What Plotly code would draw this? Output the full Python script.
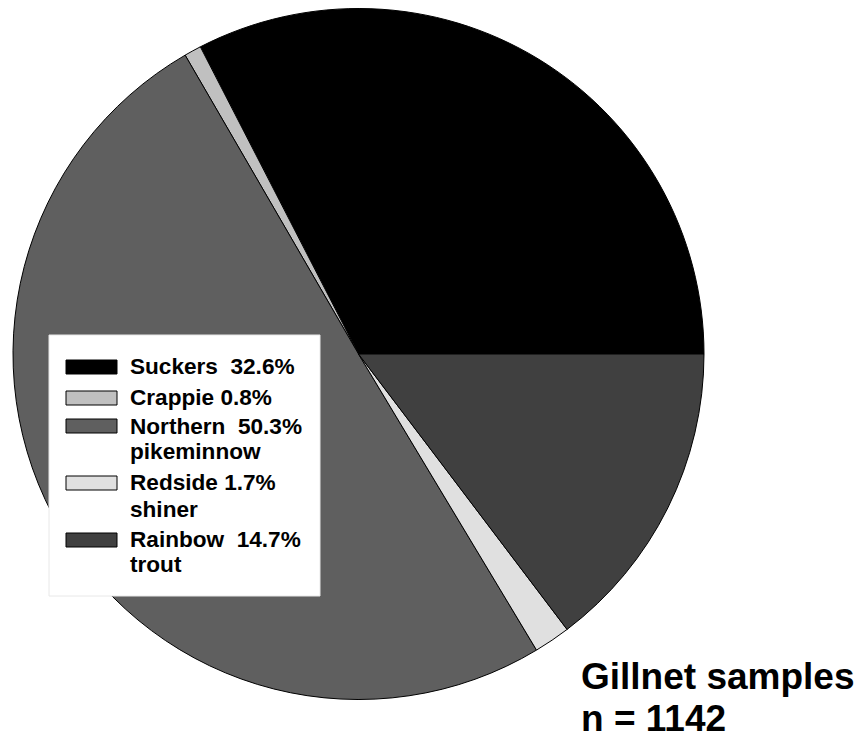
import plotly.graph_objects as go

W, H = 862, 740

# Catch composition (percent of gillnet catch)
species = ["Suckers", "Crappie", "Northern pikeminnow", "Redside shiner", "Rainbow trout"]
percent = [32.6, 0.8, 50.3, 1.7, 14.7]
colors = ["#000000", "#c0c0c0", "#5f5f5f", "#e0e0e0", "#404040"]
# Legend text, one list of lines per species
legend_lines = [
    ["Suckers\u00a0\u00a032.6%"],
    ["Crappie 0.8%"],
    ["Northern\u00a0\u00a050.3%", "pikeminnow"],
    ["Redside 1.7%", "shiner"],
    ["Rainbow\u00a0\u00a014.7%", "trout"],
]
sample_title = "Gillnet samples"
sample_size = "n = 1142"

FONT = "Liberation Sans, Arial, sans-serif"


def px_x(x):
    return x / W


def px_y(y):
    return 1 - y / H


# Plotly anchors a counterclockwise pie at the far edge of the first slice,
# so offset the rotation to make the first slice start at 3 o'clock.
first_angle = 360.0 * percent[0] / sum(percent)

fig = go.Figure(
    go.Pie(
        labels=species,
        values=percent,
        sort=False,
        direction="counterclockwise",
        rotation=90 - first_angle,
        textinfo="none",
        hoverinfo="label+percent",
        marker=dict(colors=colors, line=dict(color="#000000", width=1)),
        domain=dict(x=[px_x(13), px_x(704)], y=[px_y(699.5), px_y(8.5)]),
        showlegend=False,
    )
)

shapes = []
annotations = []

# Legend panel
shapes.append(dict(type="rect", xref="paper", yref="paper",
                   x0=px_x(49), x1=px_x(320), y0=px_y(596), y1=px_y(335),
                   fillcolor="#ffffff", line=dict(color="#e8e8e8", width=1)))

swatch_centers = [367, 398, 426, 483, 540]
line_baselines = [[375], [406], [434, 459], [490, 517], [547, 572]]
for color, center, lines, bases in zip(colors, swatch_centers, legend_lines, line_baselines):
    shapes.append(dict(type="rect", xref="paper", yref="paper",
                       x0=px_x(66), x1=px_x(117), y0=px_y(center + 7), y1=px_y(center - 7),
                       fillcolor=color, line=dict(color="#000000", width=1)))
    for txt, base in zip(lines, bases):
        annotations.append(dict(text="<b>%s</b>" % txt, xref="paper", yref="paper",
                                x=px_x(128), y=px_y(base - 8), xanchor="left", yanchor="middle",
                                showarrow=False, font=dict(family=FONT, size=22.6, color="#000000")))

annotations.append(dict(text="<b>%s</b>" % sample_title, xref="paper", yref="paper",
                        x=px_x(580), y=px_y(698), xanchor="left", yanchor="bottom",
                        showarrow=False, borderpad=0,
                        font=dict(family=FONT, size=37, color="#000000")))
annotations.append(dict(text="<b>%s</b>" % sample_size, xref="paper", yref="paper",
                        x=px_x(580), y=0, xanchor="left", yanchor="bottom",
                        showarrow=False, borderpad=0,
                        font=dict(family=FONT, size=37, color="#000000")))

fig.update_layout(
    width=W, height=H,
    margin=dict(l=0, r=0, t=0, b=0),
    paper_bgcolor="#ffffff", plot_bgcolor="#ffffff",
    shapes=shapes, annotations=annotations,
)

fig.write_html("out.html")
